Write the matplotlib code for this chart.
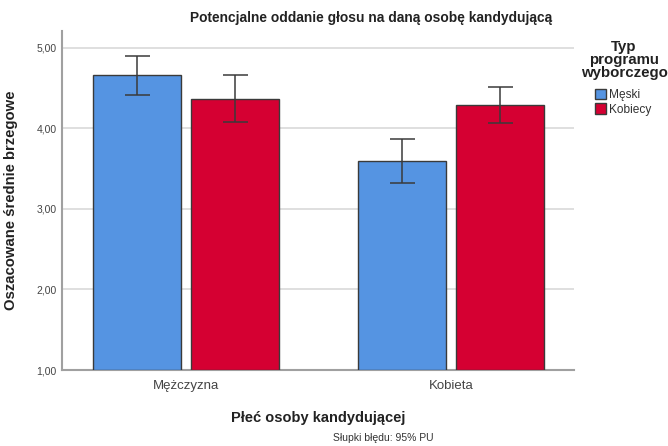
import matplotlib
matplotlib.use("Agg")
import matplotlib.pyplot as plt
import numpy as np
from matplotlib.patches import Patch

plt.rcParams['font.family'] = ['Liberation Sans', 'DejaVu Sans']

categories = ["Mężczyzna", "Kobieta"]
series_names = ["Męski", "Kobiecy"]
means = {"Męski": [4.66, 3.59], "Kobiecy": [4.37, 4.29]}
ci_low = {"Męski": [4.42, 3.32], "Kobiecy": [4.08, 4.07]}
ci_high = {"Męski": [4.90, 3.87], "Kobiecy": [4.66, 4.51]}
yticks = [1, 2, 3, 4, 5]
ytick_labels = ["1,00", "2,00", "3,00", "4,00", "5,00"]
colors = ["#5594E2", "#D50032"]

fig = plt.figure(figsize=(6.68, 4.46), dpi=100)
ax = fig.add_axes([62/668, 1-370/446, (574-62)/668, (370-31)/446])

x = np.arange(len(categories))
width = 0.332
offsets = [-0.185, 0.185]
for i, s in enumerate(series_names):
    m = np.array(means[s])
    lo = m - np.array(ci_low[s])
    hi = np.array(ci_high[s]) - m
    ax.bar(x + offsets[i], m - 1, width, bottom=1, color=colors[i],
           edgecolor="#3a3a3a", linewidth=1.0, zorder=3)
    ax.errorbar(x + offsets[i], m, yerr=[lo, hi], fmt="none", ecolor="#3a3a3a",
                elinewidth=1.1, capsize=9, capthick=1.1, zorder=4)

ax.set_xlim(-0.468, 1.464)
ax.set_ylim(1, 5.21)
ax.set_yticks(yticks)
ax.set_yticklabels(ytick_labels, fontsize=7.5, color="#444444")
ax.set_xticks(x)
ax.set_xticklabels(categories, fontsize=9.5, color="#444444")
ax.tick_params(axis="y", length=0, pad=4)
ax.tick_params(axis="x", length=0, pad=7)
ax.yaxis.grid(True, color="#d9d9d9", linewidth=1.2, zorder=0)
ax.set_axisbelow(True)
for sp in ["top", "right"]:
    ax.spines[sp].set_visible(False)
for sp in ["left", "bottom"]:
    ax.spines[sp].set_color("#a0a0a0")
    ax.spines[sp].set_linewidth(1.5)

ax.set_ylabel("Oszacowane średnie brzegowe", fontsize=10.7, fontweight="bold",
              color="#222222")
ax.yaxis.set_label_coords((18-62)/512, 0.5)
ax.set_xlabel("Płeć osoby kandydującej", fontsize=10.5, fontweight="bold",
              color="#222222")
ax.xaxis.set_label_coords(0.5, (370-411)/339)

fig.text(371/668, 1-18/446, "Potencjalne oddanie głosu na daną osobę kandydującą",
         ha="center", va="center", fontsize=9.9, fontweight="bold", color="#222222")
fig.text(383/668, 1-438/446, "Słupki błędu: 95% PU", ha="center", va="center",
         fontsize=7.5, color="#333333")

fig.text(624/668, 1-60/446, "Typ\nprogramu\nwyborczego", ha="center", va="center",
         fontsize=10.8, fontweight="bold", color="#222222", linespacing=0.95)
handles = [Patch(facecolor=colors[i], edgecolor="#3a3a3a", label=s)
           for i, s in enumerate(series_names)]
leg = fig.legend(handles=handles, loc="upper left", bbox_to_anchor=(595/668, 1-89/446),
                 frameon=False, fontsize=8.6, handlelength=0.95, handleheight=0.95,
                 handletextpad=0.2, labelspacing=0.18, borderaxespad=0, borderpad=0)
for t in leg.get_texts():
    t.set_color("#333333")

fig.savefig("out.png", dpi=100)
